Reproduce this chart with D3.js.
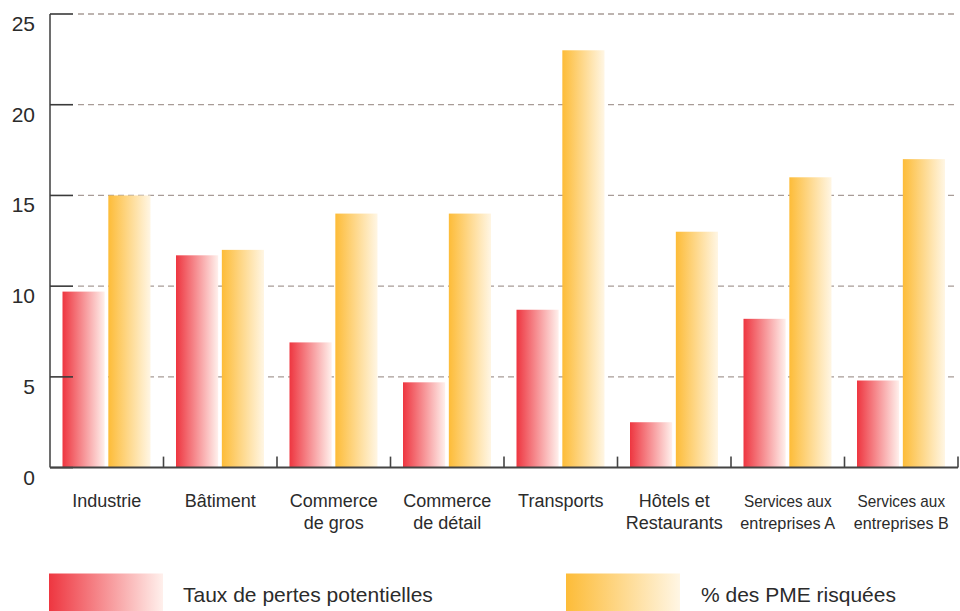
<!DOCTYPE html>
<html>
<head>
<meta charset="utf-8">
<script src="https://cdn.jsdelivr.net/npm/d3@7"></script>
<style>
  body { margin: 0; background: #fff; }
  text { font-family: "Liberation Sans", Arial, sans-serif; fill: #2b2b2b; }
</style>
</head>
<body>
<div class="chart"></div>
<script>
const width = 960;
const height = 611;

// data
const categories = ['Industrie', 'Bâtiment', 'Commerce de gros', 'Commerce de détail',
  'Transports', 'Hôtels et Restaurants', 'Services aux entreprises A', 'Services aux entreprises B'];
const categoryLines = [
  ['Industrie'], ['Bâtiment'], ['Commerce', 'de gros'], ['Commerce', 'de détail'],
  ['Transports'], ['Hôtels et', 'Restaurants'], ['Services aux', 'entreprises A'], ['Services aux', 'entreprises B']
];
const seriesNames = ['Taux de pertes potentielles', '% des PME risquées'];
const tauxPertes = [9.7, 11.7, 6.9, 4.7, 8.7, 2.5, 8.2, 4.8];
const pmeRisquees = [15, 12, 14, 14, 23, 13, 16, 17];
const yTicks = [0, 5, 10, 15, 20, 25];

const plotLeft = 50, plotRight = 958, plotTop = 14, plotBottom = 467.6;

const svg = d3.select('.chart').append('svg')
  .attr('width', width)
  .attr('height', height);

const defs = svg.append('defs');
const grads = [
  {id: 'gRed', from: '#ee3640', to: '#fff0ec'},
  {id: 'gOrange', from: '#fdbc38', to: '#fff6e4'}
];
grads.forEach(g => {
  const lg = defs.append('linearGradient').attr('id', g.id)
    .attr('x1', '0%').attr('x2', '100%').attr('y1', '0%').attr('y2', '0%');
  lg.append('stop').attr('offset', '0%').attr('stop-color', g.from);
  lg.append('stop').attr('offset', '100%').attr('stop-color', g.to);
});

const x = d3.scaleBand()
  .domain(categories)
  .range([plotLeft, plotRight])
  .padding(0);

const xs = d3.scaleBand()
  .domain([0, 1])
  .range([12.5, 100.5])
  .paddingInner(0.08);

const y = d3.scaleLinear()
  .domain([0, 25])
  .range([plotBottom, plotTop]);

// gridlines
svg.append('g').selectAll('line')
  .data(yTicks.filter(d => d > 0))
  .enter().append('line')
  .attr('x1', 78).attr('x2', plotRight)
  .attr('y1', d => y(d)).attr('y2', d => y(d))
  .style('stroke', '#a89c97')
  .style('stroke-width', 1.3)
  .style('stroke-dasharray', '6,4');

// bars
const rows = categories.map((c, i) => ({cat: c, vals: [tauxPertes[i], pmeRisquees[i]]}));
const groups = svg.append('g').selectAll('g')
  .data(rows)
  .enter().append('g')
  .attr('transform', d => 'translate(' + x(d.cat) + ',0)');

groups.selectAll('rect')
  .data(d => d.vals.map((v, k) => ({k: k, v: v})))
  .enter().append('rect')
  .attr('x', d => xs(d.k))
  .attr('width', xs.bandwidth())
  .attr('y', d => y(d.v))
  .attr('height', d => plotBottom - y(d.v))
  .attr('fill', d => d.k === 0 ? 'url(#gRed)' : 'url(#gOrange)');

// y axis
const yAxis = svg.append('g');
yAxis.append('line')
  .attr('x1', plotLeft).attr('x2', plotLeft).attr('y1', plotTop).attr('y2', plotBottom)
  .style('stroke', '#4a4a4a').style('stroke-width', 1.6);
yAxis.selectAll('.tk')
  .data(yTicks)
  .enter().append('line')
  .attr('x1', plotLeft).attr('x2', 73)
  .attr('y1', d => y(d)).attr('y2', d => y(d))
  .style('stroke', '#3a3a3a').style('stroke-width', 1.6);
yAxis.selectAll('text')
  .data(yTicks)
  .enter().append('text')
  .attr('x', 35)
  .attr('y', d => y(d) + 17)
  .attr('text-anchor', 'end')
  .style('font-size', '21px')
  .text(d => d);

// x axis
const xAxis = svg.append('g');
xAxis.append('line')
  .attr('x1', plotLeft).attr('x2', plotRight).attr('y1', plotBottom).attr('y2', plotBottom)
  .style('stroke', '#444').style('stroke-width', 2);
xAxis.selectAll('.tk')
  .data(categories)
  .enter().append('line')
  .attr('x1', d => x(d) + x.bandwidth()).attr('x2', d => x(d) + x.bandwidth())
  .attr('y1', plotBottom).attr('y2', plotBottom - 11)
  .style('stroke', '#444').style('stroke-width', 1.6);

const labels = xAxis.selectAll('text')
  .data(categories)
  .enter().append('text')
  .attr('text-anchor', 'middle')
  .style('font-size', '18px');
labels.each(function(d, i) {
  const t = d3.select(this);
  const narrow = i >= 6;
  categoryLines[i].forEach((ln, j) => {
    const s = t.append('tspan')
      .attr('x', x(d) + x.bandwidth() / 2)
      .attr('y', 506.5 + j * 22)
      .text(ln);
    if (narrow) {
      // the source uses a condensed face for these two labels
      s.style('font-size', '17px');
      s.attr('textLength', ln.length * 7.3)
        .attr('lengthAdjust', 'spacingAndGlyphs');
    }
  });
});

// legend
const legend = [
  {name: seriesNames[0], fill: 'url(#gRed)', rx: 49, tx: 183},
  {name: seriesNames[1], fill: 'url(#gOrange)', rx: 566, tx: 701}
];
const lg = svg.append('g').selectAll('g')
  .data(legend)
  .enter().append('g');
lg.append('rect')
  .attr('x', d => d.rx).attr('y', 573.5)
  .attr('width', 114).attr('height', 40)
  .attr('fill', d => d.fill);
lg.append('text')
  .attr('x', d => d.tx).attr('y', 602)
  .style('font-size', '21px')
  .text(d => d.name);
</script>
</body>
</html>
